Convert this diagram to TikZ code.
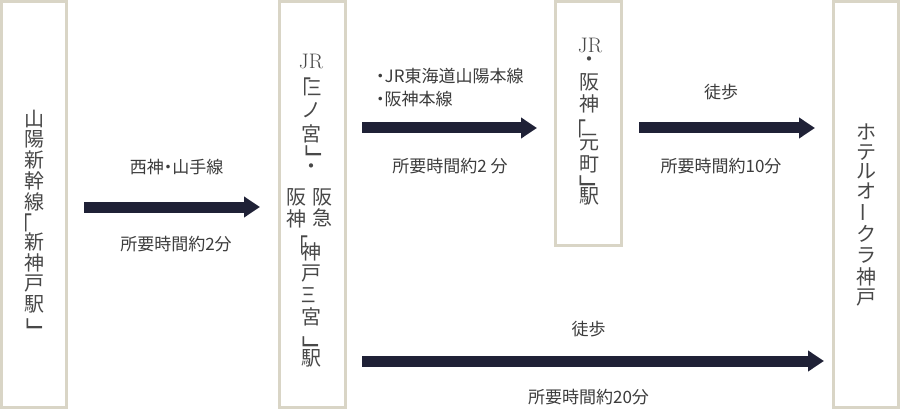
\documentclass[tikz,border=0pt]{standalone}
\usepackage{fontspec}
\usepackage{graphicx}
\usetikzlibrary{arrows.meta}
\newfontfamily\jp{Noto Sans CJK JP}
\newfontfamily\jpp[RawFeature=+palt]{Noto Sans CJK JP}
\definecolor{boxc}{HTML}{D9D5C6}
\definecolor{arrc}{HTML}{1F2136}
\definecolor{txt}{HTML}{3C3C3C}
\definecolor{vtxt}{HTML}{484848}
\newcommand{\narrow}[1]{\scalebox{0.72}[1]{#1}}
\newcommand{\obr}{\scalebox{1}[1.4]{\raisebox{0pt}[0.86em][-0.23em]{「}}}
\newcommand{\cbr}{\scalebox{1.1}[1.6]{\raisebox{0pt}[0.86em][-0.58em]{﹂}}}
\newcommand{\vdot}{\raisebox{0pt}[0.5em][-0.3em]{・}}
\begin{document}
\begin{tikzpicture}[x=1pt,y=-1pt,
  box/.style={draw=boxc, line width=3pt, fill=white, inner sep=0pt},
  vch/.style={font=\jp\fontsize{20}{20}\selectfont, text=vtxt, inner sep=0pt, anchor=center},
  obrk/.style={vch, anchor=north},
  cbrk/.style={vch, anchor=north west},
  lbl/.style={font=\jpp\fontsize{17}{17}\selectfont, text=txt, inner sep=0pt},
  jrtxt/.style={font=\fontsize{21}{21}\selectfont, text=vtxt, inner sep=0pt},
  arr/.style={draw=arrc, line width=11pt, -{Triangle[length=16pt,width=20pt]}}]
\useasboundingbox (0,0) rectangle (900,409);
\fill[white] (0,0) rectangle (900,409);

% boxes
\node[box, minimum width=65pt, minimum height=406pt] (b1) at (34,204.5) {};
\node[box, minimum width=66pt, minimum height=406pt] (b2) at (312,204.5) {};
\node[box, minimum width=66pt, minimum height=243.5pt] (b3) at (588.7,123.25) {};
\node[box, minimum width=65pt, minimum height=406pt] (b4) at (865.8,204.5) {};

% box 1 text
\foreach \c/\y [count=\i] in {山/118.5, 陽/139, 新/159.5, 幹/180.5, 線/201.5, 新/242, 神/263, 戸/284, 駅/304.5}
  \node[vch] (t1-\i) at (34,\y) {\c};
\node[obrk] (t1-o) at (22.5,213) {\obr};
\node[cbrk] (t1-c) at (26,318) {\cbr};

% box 2 text
\node[jrtxt] (t2-jr) at (311,61) {JR};
\node[obrk] (t2-o1) at (301.5,77) {\obr};
\node[vch] (t2-a) at (314.5,88) {\narrow{三}};
\node[vch] (t2-b) at (311,110) {ノ};
\node[vch] (t2-c) at (311,134) {宮};
\node[cbrk] (t2-c1) at (305,145) {\cbr};
\node[vch] (t2-dot) at (311,169) {\vdot};
\node[vch] (t2-l1) at (296.5,197.5) {阪};
\node[vch] (t2-l2) at (296.5,218.5) {神};
\node[vch] (t2-r1) at (322,197.5) {阪};
\node[vch] (t2-r2) at (322,218) {急};
\node[obrk] (t2-o2) at (298.2,235) {\obr};
\node[vch] (t2-d) at (311.5,252) {神};
\node[vch] (t2-e) at (311.5,274) {戸};
\node[vch] (t2-f) at (309,295) {\narrow{三}};
\node[vch] (t2-g) at (311.5,317) {宮};
\node[cbrk] (t2-c2) at (302,336) {\cbr};
\node[vch] (t2-h) at (311.5,358.5) {駅};

% box 3 text
\node[jrtxt] (t3-jr) at (590,45) {JR};
\node[vch] (t3-dot) at (589.5,62) {\vdot};
\node[vch] (t3-a) at (589,82) {阪};
\node[vch] (t3-b) at (589,104) {神};
\node[obrk] (t3-o) at (576.5,119) {\obr};
\node[vch] (t3-c) at (589,143) {元};
\node[vch] (t3-d) at (589,164) {町};
\node[cbrk] (t3-cl) at (579,175) {\cbr};
\node[vch] (t3-e) at (589,196.5) {駅};

% box 4 text
\foreach \c/\y [count=\i] in {ホ/132, テ/152.5, ル/171, オ/191, ク/234, ラ/255, 神/277, 戸/298}
  \node[vch] (t4-\i) at (866,\y) {\c};
\node[vch] (t4-bar) at (859.8,212) {\rotatebox{-90}{ー}};

% arrows
\coordinate (a1s) at (84,207);  \coordinate (a1e) at (260,207);
\coordinate (a2s) at (362,128); \coordinate (a2e) at (537,128);
\coordinate (a3s) at (639,128); \coordinate (a3e) at (815,128);
\coordinate (a4s) at (362,361); \coordinate (a4e) at (824,361);
\draw[arr] (a1s) -- (a1e);
\draw[arr] (a2s) -- (a2e);
\draw[arr] (a3s) -- (a3e);
\draw[arr] (a4s) -- (a4e);

% labels
\node[lbl] (l1a) at (176.5,167.5) {西神・山手線};
\node[lbl] (l1b) at (176,244.5) {所要時間約2分};
\node[lbl, anchor=west] (l2a) at (376,76) {・JR東海道山陽本線};
\node[lbl, anchor=west] (l2b) at (376,99) {・阪神本線};
\node[lbl] (l2c) at (450,166.5) {所要時間約2 分};
\node[lbl] (l3a) at (721,92.5) {徒歩};
\node[lbl] (l3b) at (721,166) {所要時間約10分};
\node[lbl] (l4a) at (588.5,329) {徒歩};
\node[lbl] (l4b) at (588.5,397) {所要時間約20分};
\end{tikzpicture}
\end{document}
